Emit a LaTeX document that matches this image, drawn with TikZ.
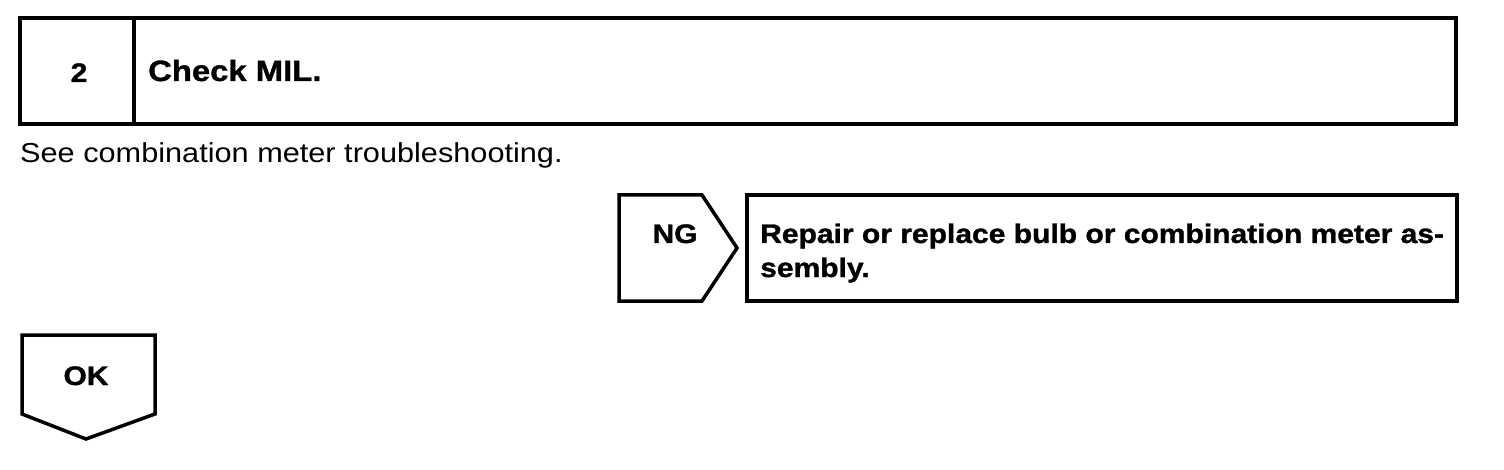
\documentclass[tikz,border=0pt]{standalone}
\usepackage{fontspec}
\setmainfont[FakeStretch=1.12,BoldFeatures={FakeBold=1.2}]{Liberation Sans}
\begin{document}
\begin{tikzpicture}[x=1pt,y=-1pt,
  frame/.style={draw=black,line width=3.5pt,line join=miter},
  big/.style={font=\fontsize{26.8}{34}\selectfont\bfseries,inner sep=0pt},
  plain/.style={font=\fontsize{27.4}{34}\selectfont,inner sep=0pt}]
\useasboundingbox[fill=white] (0,0) rectangle (1504,470);
% top step box
\draw[frame] (20,18) rectangle (1456,124);
\draw[frame] (134,18) -- (134,124);
\node[big,anchor=base] (num) at (79,82) {2};
\node[big,anchor=base west,font=\fontsize{29.3}{34}\selectfont\bfseries] (title) at (148,81) {Check MIL.};
% description
\node[plain,anchor=base west] (desc) at (20,163) {See combination meter troubleshooting.};
% NG tag
\draw[frame] (619,195) -- (702,195) -- (737,248) -- (702,301) -- (619,301) -- cycle;
\node[big,anchor=base] (ng) at (675,243) {NG};
% result box
\draw[frame] (747,195) rectangle (1457,301);
\node[big,anchor=base west] (res) at (760,243) {Repair or replace bulb or combination meter as-};
\node[big,anchor=base west] (res2) at (760,277) {sembly.};
% OK tag
\draw[frame] (22,335) -- (155,335) -- (155,414) -- (86,439) -- (22,414) -- cycle;
\node[big,anchor=base] (ok) at (86,385) {OK};
\end{tikzpicture}
\end{document}
